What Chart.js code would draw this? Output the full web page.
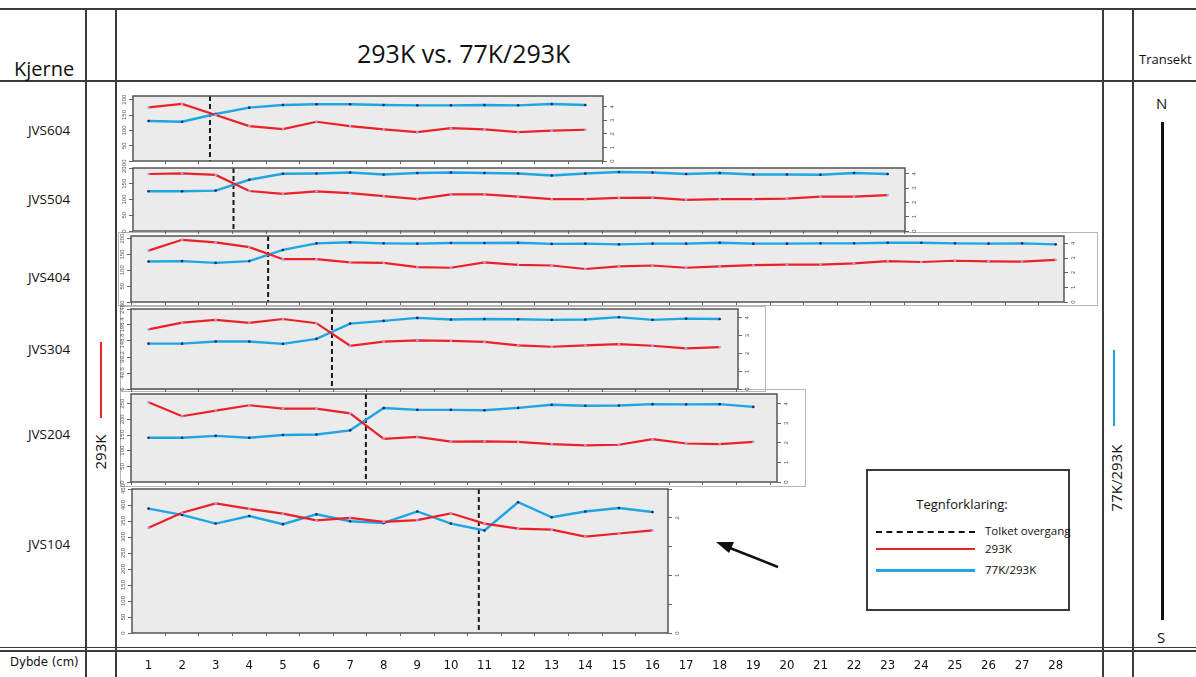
<!DOCTYPE html>
<html>
<head>
<meta charset="utf-8">
<script src="https://cdn.jsdelivr.net/npm/chart.js@4.4.0/dist/chart.umd.min.js"></script>
<style>
body { margin:0; background:#fff; width:1196px; height:677px; position:relative; overflow:hidden;
       font-family:"Open Sans","Noto Sans",sans-serif; color:#111; }
.ln { position:absolute; background:#3a3a3a; }
.txt { position:absolute; white-space:nowrap; line-height:1; }
.frame { position:absolute; border:1px solid #b5b5b5; box-sizing:border-box; }
canvas { position:absolute; }
.narrow { font-family:"Liberation Sans Narrow","DejaVu Sans Condensed","Liberation Sans",sans-serif; }
</style>
</head>
<body>

<!-- table frame -->
<div class="ln" style="left:0;top:8px;width:1196px;height:1.5px"></div>
<div class="ln" style="left:0;top:80px;width:1196px;height:1.5px"></div>
<div class="ln" style="left:0;top:647px;width:1196px;height:1px"></div>
<div class="ln" style="left:0;top:650px;width:1196px;height:2px"></div>
<div class="ln" style="left:85px;top:8px;width:1.5px;height:669px"></div>
<div class="ln" style="left:115px;top:8px;width:1.5px;height:669px"></div>
<div class="ln" style="left:1102px;top:8px;width:1.5px;height:669px"></div>
<div class="ln" style="left:1132px;top:8px;width:1.5px;height:669px"></div>

<div class="txt" style="left:14px;top:59px;font-size:20px">Kjerne</div>
<div class="txt" style="left:357px;top:41px;font-size:25px">293K vs. 77K/293K</div>
<div class="txt" style="left:1139px;top:53px;font-size:13px">Transekt</div>
<div class="txt narrow" style="left:10px;top:655px;font-size:13px">Dybde (cm)</div>

<div id="cores"></div>

<!-- axis column labels -->
<div class="ln" style="left:100px;top:342px;width:2px;height:76px;background:#e8262a"></div>
<div class="txt" style="left:100px;top:452px;font-size:15px;transform:translate(-50%,-50%) rotate(-90deg)">293K</div>
<div class="ln" style="left:1113px;top:350px;width:2px;height:76px;background:#1fa5e3"></div>
<div class="txt" style="left:1116px;top:478px;font-size:15px;transform:translate(-50%,-50%) rotate(-90deg)">77K/293K</div>

<!-- transect -->
<div class="txt" style="left:1156px;top:96px;font-size:15px">N</div>
<div class="ln" style="left:1161px;top:122px;width:3px;height:498px;background:#111"></div>
<div class="txt" style="left:1157px;top:630px;font-size:15px">S</div>

<!-- panel frames -->
<div class="frame" style="left:118px;top:232px;width:980px;height:74px"></div>
<div class="frame" style="left:120px;top:306px;width:646px;height:86px"></div>
<div class="frame" style="left:120px;top:389px;width:686px;height:98px"></div>

<!-- legend -->
<div style="position:absolute;left:866px;top:469px;width:204px;height:142px;border:2px solid #3a3a3a;box-sizing:border-box"></div>
<div class="txt" style="left:962px;top:498px;font-size:13px;transform:translateX(-50%)">Tegnforklaring:</div>
<div style="position:absolute;left:876px;top:531px;width:99px;border-top:2px dashed #111"></div>
<div class="txt" style="left:985px;top:525px;font-size:11.5px">Tolket overgang</div>
<div class="ln" style="left:876px;top:548px;width:99px;height:2px;background:#e8262a"></div>
<div class="txt" style="left:985px;top:543px;font-size:11.5px">293K</div>
<div class="ln" style="left:876px;top:569px;width:99px;height:2.5px;background:#1fa5e3"></div>
<div class="txt" style="left:985px;top:564px;font-size:11.5px">77K/293K</div>

<!-- arrow -->
<svg style="position:absolute;left:0;top:0" width="1196" height="677">
  <line x1="778" y1="567" x2="730" y2="548" stroke="#111" stroke-width="2.5"/>
  <polygon points="716,542 734,542 729,553" fill="#111"/>
</svg>

<script>
// depth (cm) categories shared by every core
const depths = [1,2,3,4,5,6,7,8,9,10,11,12,13,14,15,16,17,18,19,20,21,22,23,24,25,26,27,28];

const cores = ['JVS604','JVS504','JVS404','JVS304','JVS204','JVS104'];

// 293K values (left axis)
const jvs604_293 = [175,186,150,114,104,128,114,103,94,107,103,94,99,102];
const jvs504_293 = [181,183,178,127,118,126,120,111,101,116,116,109,101,101,105,106,99,101,101,103,109,109,114];
const jvs404_293 = [162,196,188,173,135,135,125,123,110,108,125,117,115,104,112,115,108,112,116,118,118,122,129,126,130,128,127,133];
const jvs304_293 = [185,206,214,205,217,204,134,147,151,149,146,135,131,135,139,134,126,130];
const jvs204_293 = [255,210,228,245,234,234,219,138,144,129,130,128,121,117,119,137,123,121,128];
const jvs104_293 = [329,376,405,388,373,352,360,347,353,374,342,326,323,301,311,321];

// 77K/293K ratio (right axis)
const jvs604_ratio = [2.95,2.90,3.47,3.94,4.14,4.19,4.19,4.14,4.11,4.11,4.14,4.11,4.21,4.14];
const jvs504_ratio = [2.78,2.78,2.82,3.58,4.00,4.02,4.09,3.95,4.05,4.09,4.05,4.02,3.88,4.02,4.12,4.09,3.98,4.05,3.95,3.95,3.93,4.05,3.98];
const jvs404_ratio = [2.76,2.79,2.67,2.79,3.55,4.00,4.07,4.00,3.98,4.02,4.02,4.04,3.96,3.98,3.93,3.98,3.98,4.04,3.98,3.98,4.00,4.00,4.04,4.04,4.00,3.98,4.00,3.93];
const jvs304_ratio = [2.55,2.55,2.67,2.67,2.54,2.82,3.68,3.83,4.00,3.91,3.94,3.92,3.89,3.91,4.04,3.89,3.96,3.94];
const jvs204_ratio = [2.26,2.26,2.36,2.26,2.40,2.43,2.64,3.78,3.69,3.69,3.67,3.79,3.95,3.90,3.91,3.98,3.97,3.98,3.84];
const jvs104_ratio = [2.16,2.05,1.90,2.03,1.89,2.06,1.94,1.91,2.11,1.90,1.78,2.27,2.01,2.11,2.17,2.10];

// interpreted transition depth for each core (dashed line)
const transitions = [2.83, 3.53, 4.56, 6.46, 7.47, 10.83];

// page geometry: depth 1 sits at x0, one cm = dx pixels
const x0 = 148.5, dx = 33.6;
const depthAt = px => 1 + (px - x0) / dx;

// box = [left, right, top, bottom] of each plot area on the page
const panels = [
    { k293: jvs604_293, ratio: jvs604_ratio, box: [133, 603, 96, 161],  leftMax: 212, leftStep: 50, rightMax: 4.8,  rightStep: 1,   labelY: 131 },
    { k293: jvs504_293, ratio: jvs504_ratio, box: [133, 905, 168, 231], leftMax: 200, leftStep: 50, rightMax: 4.4,  rightStep: 1,   labelY: 200 },
    { k293: jvs404_293, ratio: jvs404_ratio, box: [131, 1064, 236, 302], leftMax: 208, leftStep: 50, rightMax: 4.5, rightStep: 1,   labelY: 278 },
    { k293: jvs304_293, ratio: jvs304_ratio, box: [131, 738, 309, 389], leftMax: 248, leftStep: 50, rightMax: 4.5,  rightStep: 1,   labelY: 350 },
    { k293: jvs204_293, ratio: jvs204_ratio, box: [131, 777, 394, 482], leftMax: 281, leftStep: 50, rightMax: 4.5,  rightStep: 1,   labelY: 435 },
    { k293: jvs104_293, ratio: jvs104_ratio, box: [132, 668, 489, 633], leftMax: 450, leftStep: 50, rightMax: 2.5,  rightStep: 0.5, labelY: 545 }
];

// core names in the first column
cores.forEach((name, i) => {
    const d = document.createElement('div');
    d.className = 'txt';
    d.style.cssText = `left:49px;top:${panels[i].labelY}px;font-size:13.5px;transform:translate(-50%,-50%)`;
    d.textContent = name;
    document.getElementById('cores').appendChild(d);
});

// grey plot area, frame, dashed transition line and rotated axis labels
const panelDeco = {
    id: 'panelDeco',
    beforeDraw(chart) {
        const { ctx, chartArea: a } = chart;
        ctx.save();
        ctx.fillStyle = '#ebebeb';
        ctx.fillRect(a.left, a.top, a.width, a.height);
        ctx.restore();
    },
    beforeDatasetsDraw(chart, args, opts) {
        const { ctx, chartArea: a } = chart;
        const x = chart.scales.x.getPixelForValue(opts.transition);
        ctx.save();
        ctx.strokeStyle = '#1a1a1a';
        ctx.lineWidth = 2;
        ctx.setLineDash([5, 3]);
        ctx.beginPath();
        ctx.moveTo(x, a.top);
        ctx.lineTo(x, a.bottom);
        ctx.stroke();
        ctx.restore();
    },
    afterDraw(chart) {
        const { ctx, chartArea: a } = chart;
        ctx.save();
        ctx.strokeStyle = '#555';
        ctx.lineWidth = 1.5;
        ctx.strokeRect(a.left, a.top, a.width, a.height);
        ctx.font = '6px "Liberation Sans", Arial, sans-serif';
        ctx.fillStyle = '#555';
        ctx.textAlign = 'center';
        ctx.textBaseline = 'middle';
        ['y', 'y1'].forEach(id => {
            const s = chart.scales[id];
            const x = id === 'y' ? a.left - 9 : a.right + 9;
            s.ticks.forEach(t => {
                if (t.label === '' || t.label == null) return;
                ctx.save();
                ctx.translate(x, s.getPixelForValue(t.value));
                ctx.rotate(-Math.PI / 2);
                ctx.fillText(t.label, 0, 0);
                ctx.restore();
            });
        });
        ctx.restore();
    }
};

function halfTicks(scale) {
    const ticks = [];
    for (let v = Math.ceil(scale.min - 0.5) + 0.5; v < scale.max; v++) ticks.push({ value: v });
    scale.ticks = ticks;
}

function makePanel(p, i) {
    const padT = 8, padB = 2, leftW = 16, rightW = 16, bottomH = 4;
    const [L, R, T, B] = p.box;
    const canvas = document.createElement('canvas');
    canvas.width = R - L + leftW + rightW;
    canvas.height = B - T + padT + padB + bottomH;
    canvas.style.left = (L - leftW) + 'px';
    canvas.style.top = (T - padT) + 'px';
    document.body.appendChild(canvas);

    const n = p.k293.length;
    const xs = depths.slice(0, n);

    new Chart(canvas, {
        type: 'line',
        data: {
            datasets: [
                {
                    label: '293K',
                    data: xs.map((d, k) => ({ x: d, y: p.k293[k] })),
                    yAxisID: 'y',
                    borderColor: '#ec2027',
                    borderWidth: 2.2,
                    pointRadius: 1.3,
                    pointBorderWidth: 0,
                    pointBackgroundColor: '#b99be0',
                    tension: 0
                },
                {
                    label: '77K/293K',
                    data: xs.map((d, k) => ({ x: d, y: p.ratio[k] })),
                    yAxisID: 'y1',
                    borderColor: '#1fa5e3',
                    borderWidth: 2.4,
                    pointRadius: 1.3,
                    pointBorderWidth: 0,
                    pointBackgroundColor: '#1b2a6b',
                    tension: 0
                }
            ]
        },
        options: {
            responsive: false,
            animation: false,
            events: [],
            layout: { padding: { top: padT, bottom: padB, left: 0, right: 0 } },
            plugins: {
                legend: { display: false },
                tooltip: { enabled: false },
                panelDeco: { transition: transitions[i] }
            },
            scales: {
                x: {
                    type: 'linear',
                    min: depthAt(L),
                    max: depthAt(R),
                    afterBuildTicks: halfTicks,
                    afterFit: s => { s.height = bottomH; },
                    ticks: { display: false },
                    border: { display: false },
                    grid: { drawOnChartArea: false, drawTicks: true, tickLength: 3, color: '#666' }
                },
                y: {
                    position: 'left',
                    min: 0,
                    max: p.leftMax,
                    afterFit: s => { s.width = leftW; },
                    ticks: { display: false, stepSize: p.leftStep, includeBounds: false },
                    border: { display: false },
                    grid: { drawOnChartArea: false, drawTicks: true, tickLength: 4, color: '#666' }
                },
                y1: {
                    position: 'right',
                    min: 0,
                    max: p.rightMax,
                    afterFit: s => { s.width = rightW; },
                    ticks: {
                        display: false,
                        stepSize: p.rightStep,
                        includeBounds: false,
                        callback: v => Number.isInteger(v) ? String(v) : ''
                    },
                    border: { display: false },
                    grid: { drawOnChartArea: false, drawTicks: true, tickLength: 4, color: '#666' }
                }
            }
        },
        plugins: [panelDeco]
    });
}

panels.forEach(makePanel);

// depth axis along the bottom row
(function () {
    const left = 118, right = 1100, pad = 10;
    const canvas = document.createElement('canvas');
    canvas.width = right - left;
    canvas.height = 37;
    canvas.style.left = left + 'px';
    canvas.style.top = '640px';
    document.body.appendChild(canvas);
    new Chart(canvas, {
        type: 'line',
        data: { datasets: [] },
        options: {
            responsive: false,
            animation: false,
            events: [],
            layout: { padding: { left: pad, right: pad } },
            plugins: { legend: { display: false }, tooltip: { enabled: false } },
            scales: {
                x: {
                    type: 'linear',
                    min: depthAt(left + pad),
                    max: depthAt(right - pad),
                    afterFit: s => { s.height = 22; },
                    afterBuildTicks: s => { s.ticks = depths.map(d => ({ value: d })); },
                    ticks: {
                        color: '#111',
                        padding: 3,
                        maxRotation: 0,
                        autoSkip: false,
                        font: { family: '"Liberation Sans Narrow","DejaVu Sans Condensed","Liberation Sans",sans-serif', size: 13 }
                    },
                    border: { display: false },
                    grid: { display: false, drawTicks: false }
                },
                y: { display: false }
            }
        }
    });
})();
</script>
</body>
</html>
